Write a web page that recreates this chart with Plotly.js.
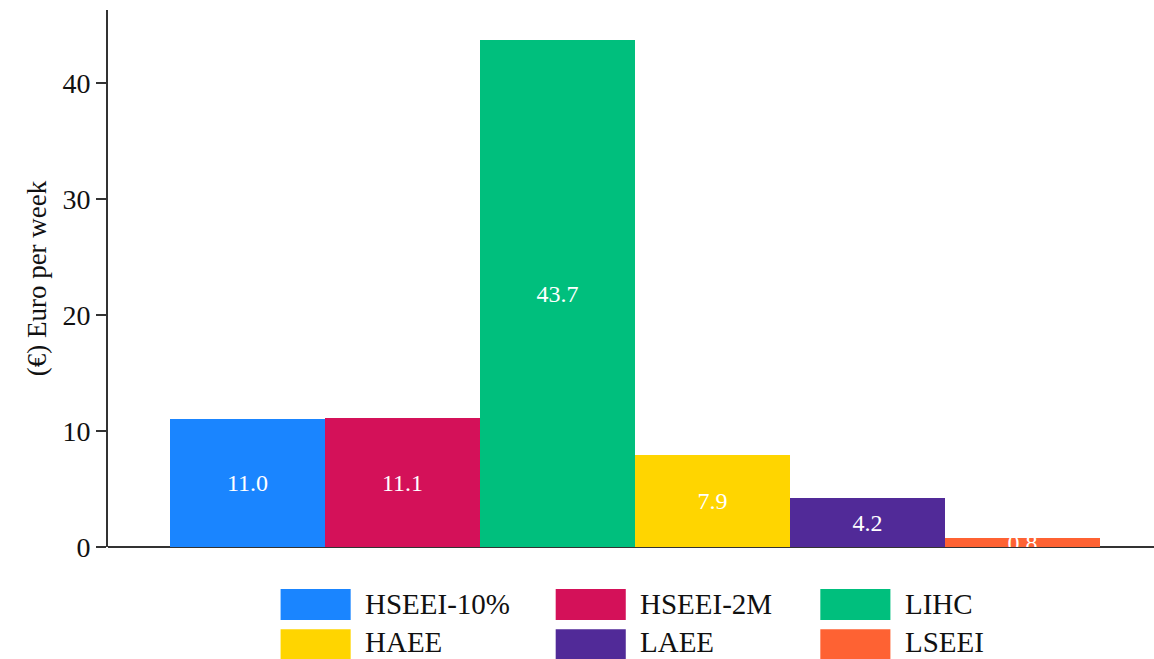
<!DOCTYPE html>
<html>
<head>
<meta charset="utf-8">
<script src="https://cdn.plot.ly/plotly-3.0.1.min.js"></script>
</head>
<body style="margin:0;padding:0;background:#fff">
<div id="chart" style="width:1154px;height:659px"></div>
<script>
const categories = ["HSEEI-10%", "HSEEI-2M", "LIHC", "HAEE", "LAEE", "LSEEI"];
const values = [11.0, 11.1, 43.7, 7.9, 4.2, 0.8];
const colors = ["#1a85ff", "#d41159", "#00bf7d", "#ffd500", "#512a98", "#fe6233"];
const yTicks = [0, 10, 20, 30, 40];

const FONT = "Liberation Serif";

const traces = categories.map((c, i) => ({
  type: "bar",
  name: c,
  x: [c],
  y: [values[i]],
  width: 1,
  marker: {color: colors[i], line: {width: 0}},
  text: [values[i].toFixed(1)],
  textposition: "inside",
  insidetextanchor: "middle",
  constraintext: "none",
  textfont: {family: FONT, size: 24, color: "#ffffff"},
  hoverinfo: "skip",
  showlegend: false
}));

// custom legend (large swatches) in paper coordinates
const legendCols = [0.165, 0.428, 0.681];
const legendRows = [-0.078, -0.153];
const swW = 0.067, swH = 0.058;
const shapes = [];
const annotations = [];
categories.forEach((c, i) => {
  const col = i % 3, row = Math.floor(i / 3);
  const x0 = legendCols[col], y0 = legendRows[row];
  shapes.push({type: "rect", xref: "paper", yref: "paper",
    x0: x0, x1: x0 + swW, y0: y0, y1: y0 - swH,
    fillcolor: colors[i], line: {width: 0}});
  annotations.push({xref: "paper", yref: "paper", x: x0 + swW + 0.012, y: y0 - swH / 2,
    xanchor: "left", yanchor: "middle", showarrow: false, text: c,
    yshift: row === 1 ? 3 : 0,
    font: {family: FONT, size: 29, color: "#111111"}});
});

const layout = {
  width: 1154, height: 659,
  margin: {l: 108, r: 0, t: 10, b: 112},
  paper_bgcolor: "#ffffff", plot_bgcolor: "#ffffff",
  barmode: "overlay",
  bargap: 0,
  showlegend: false,
  font: {family: FONT, size: 24, color: "#111111"},
  xaxis: {
    type: "category",
    categoryorder: "array", categoryarray: categories,
    range: [-0.9, 5.85],
    showticklabels: false, ticks: "",
    showgrid: false, zeroline: false,
    showline: false
  },
  yaxis: {
    range: [0, 46.3],
    tickvals: yTicks,
    ticktext: yTicks.map(String),
    ticks: "outside", ticklen: 10, tickwidth: 2, tickcolor: "#333333",
    showline: true, linewidth: 2, linecolor: "#333333",
    showgrid: false,
    zeroline: true, zerolinecolor: "#333333", zerolinewidth: 2,
    tickfont: {family: FONT, size: 28, color: "#111111"},
    title: {text: "(€) Euro per week", font: {family: FONT, size: 27, color: "#111111"}, standoff: 8}
  },
  shapes: shapes,
  annotations: annotations
};

Plotly.newPlot("chart", traces, layout, {displayModeBar: false});
</script>
</body>
</html>
